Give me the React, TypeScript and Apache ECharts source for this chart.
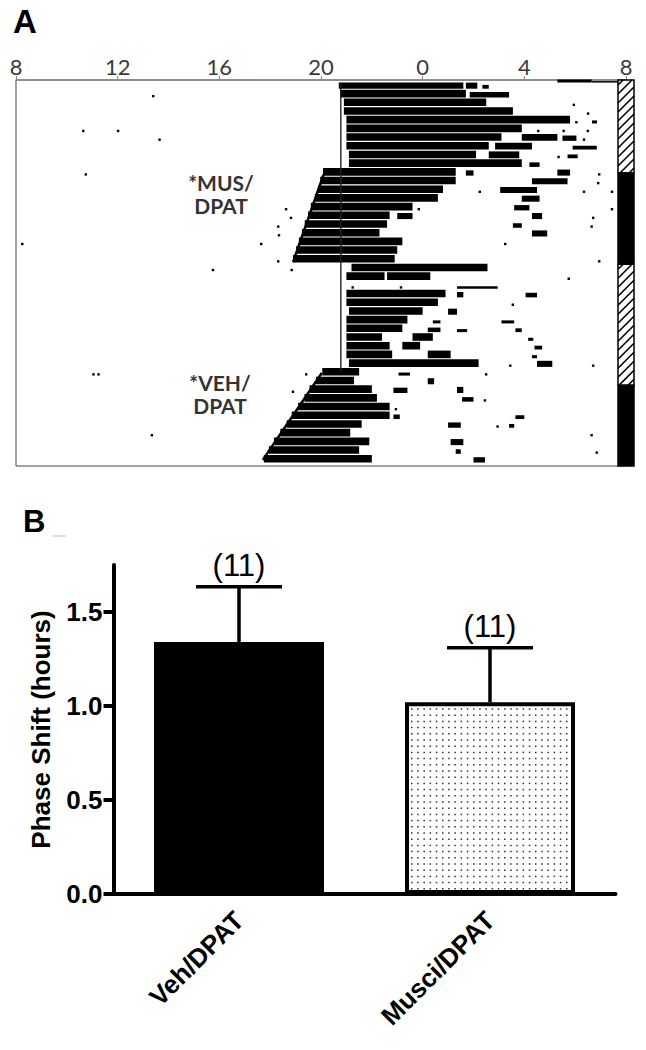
import React, { useEffect, useRef } from 'react';
import * as echarts from 'echarts';

// ---------- Panel A: actogram ----------
const hourTicks = [8, 12, 16, 20, 24, 28, 32];
const rowCount = 44;

// per-day activity bouts: [startHour, endHour, heightLevel]
const activityRows: number[][][] = [
  [[20.7, 25.6, 0.8], [25.7, 26.15, 0.8], [26.35, 26.6, 0.5]],
  [[20.75, 25.7, 1], [25.85, 27.4, 0.7]],
  [[20.9, 26.5, 1]],
  [[20.9, 27.55, 1]],
  [[21.0, 29.8, 1], [30.66, 30.86, 0.4]],
  [[21.0, 27.9, 1]],
  [[21.0, 27.1, 1], [27.9, 29.3, 0.9], [29.5, 30.05, 0.7]],
  [[21.0, 26.6, 1], [26.85, 28.3, 0.9], [29.9, 30.85, 0.5]],
  [[21.1, 26.1, 1], [26.6, 27.8, 0.9], [29.7, 30.1, 0.5]],
  [[21.1, 27.9, 1], [28.2, 28.6, 0.6]],
  [[20.08, 25.3, 1], [25.7, 26.0, 0.7], [29.3, 29.8, 0.8]],
  [[19.97, 25.3, 1], [28.3, 29.7, 0.8]],
  [[19.88, 24.8, 1], [27.05, 28.5, 0.8]],
  [[19.76, 24.6, 1], [27.9, 28.6, 0.8]],
  [[19.6, 23.6, 1], [27.6, 28.2, 0.7]],
  [[19.49, 22.7, 1], [23.0, 23.6, 0.8], [28.3, 28.7, 0.8]],
  [[19.36, 22.6, 1], [27.55, 27.9, 0.6]],
  [[19.25, 22.3, 1], [28.3, 28.9, 0.8]],
  [[19.13, 23.2, 1]],
  [[19.02, 23.0, 1]],
  [[18.9, 22.9, 1]],
  [[21.2, 26.55, 1]],
  [[21.0, 22.5, 1], [22.6, 24.3, 1]],
  [[25.35, 26.95, 0.3]],
  [[21.0, 24.9, 1], [25.35, 25.6, 0.7], [28.05, 28.5, 0.6]],
  [[21.0, 24.6, 1]],
  [[21.1, 24.0, 1], [25.0, 25.35, 0.8]],
  [[21.0, 23.4, 1], [24.4, 24.7, 0.4], [27.1, 27.6, 0.4]],
  [[21.0, 23.2, 1], [24.2, 24.7, 0.6], [25.35, 25.75, 0.4], [27.65, 27.9, 0.5]],
  [[21.0, 22.4, 1], [23.6, 24.4, 1], [28.15, 28.35, 0.4]],
  [[21.0, 22.7, 1], [23.2, 23.9, 1], [28.4, 28.7, 0.5]],
  [[21.0, 22.8, 1], [24.2, 25.1, 1], [28.3, 28.5, 0.4]],
  [[21.1, 26.2, 1], [28.5, 29.1, 0.8]],
  [[20.05, 21.5, 1], [23.05, 23.5, 0.4]],
  [[19.8, 21.3, 1], [24.2, 24.45, 0.8]],
  [[19.55, 22.0, 1], [22.85, 23.4, 0.7], [25.35, 25.6, 0.8]],
  [[19.35, 22.2, 1], [25.55, 26.0, 0.6]],
  [[19.1, 22.7, 1]],
  [[18.85, 22.7, 1], [22.85, 23.1, 0.6], [27.65, 28.0, 0.5]],
  [[18.65, 21.6, 1], [25.0, 25.5, 0.7], [27.4, 27.6, 0.5]],
  [[18.4, 21.15, 1]],
  [[18.15, 21.9, 1], [25.1, 25.6, 0.8]],
  [[17.95, 21.5, 1], [25.3, 25.5, 0.6]],
  [[17.75, 22.0, 1], [26.0, 26.45, 0.7]],
];

// isolated counts: [row, hour]
const isolatedCounts: number[][] = [
  [1, 13.35], [2, 29.9], [3, 30.46], [4, 30.0], [5, 10.6], [5, 11.97], [5, 28.5], [5, 29.5], [5, 30.45],
  [6, 13.6], [6, 30.3], [8, 29.3], [10, 10.7], [10, 30.9], [11, 30.86], [12, 26.2], [12, 30.3], [12, 31.4],
  [14, 23.8], [14, 31.4], [14, 18.58], [15, 18.77], [15, 30.66], [16, 18.27], [16, 30.6], [17, 18.3],
  [18, 8.2], [18, 17.6], [18, 27.2], [20, 18.27], [20, 30.9], [21, 15.7], [21, 18.8], [22, 29.7],
  [23, 21.2], [23, 23.1], [25, 27.5], [32, 27.4], [32, 30.66], [33, 11.0], [33, 11.2], [33, 19.37],
  [33, 26.45], [35, 18.85], [36, 26.4], [37, 22.9], [39, 26.9], [40, 30.6], [40, 13.3], [42, 30.8],
];

// carry-over activity drawn just under the time axis: [startHour, endHour, heightLevel]
const carryOverBouts: number[][] = [[29.3, 30.65, 0.4], [30.65, 31.7, 0.18]];

// guide lines [hour, row position]
const onsetGuide = [[20.78, 0.45], [20.78, 33.6]];
const musFitLine = [[20.1, 10.9], [18.9, 20.95]];
const vehFitLine = [[20.03, 33.7], [17.71, 43.7]];

// lighting bar: [fromRow, toRow, kind] kind 1 = hatched, 2 = dark
const lightingSegments = [[0, 10.7, 1], [10.7, 21.2, 2], [21.2, 35.1, 1], [35.1, 44.4, 2]];

// ---------- Panel B: bar chart ----------
const groups = ['Veh/DPAT', 'Musci/DPAT'];
const phaseShiftMean = [1.34, 1.02];
const phaseShiftSem = [0.294, 0.29];
const groupN = [11, 11];
const yTicksB = [0, 0.5, 1.0, 1.5];

const BAR_W = 170;
const ROW_H = 7.6;

export default function App() {
  const ref = useRef<HTMLDivElement>(null);
  useEffect(() => {
    const chart = echarts.init(ref.current!, null, { renderer: 'svg' });

    const boutData: number[][] = [];
    activityRows.forEach((row, r) => row.forEach((b) => boutData.push([r, b[0], b[1], b[2]])));
    isolatedCounts.forEach((d) => boutData.push([d[0], d[1], d[1], 0.32]));
    carryOverBouts.forEach((b) => boutData.push([-0.7, b[0], b[1], b[2]]));

    const annoStyle = { fontSize: 21, lineHeight: 23, fontWeight: 'bold', fontFamily: 'Lato', fill: '#333', align: 'center', verticalAlign: 'middle' };

    const option: any = {
      animation: false,
      textStyle: { fontFamily: 'Liberation Sans' },
      grid: [
        { left: 16, top: 80, width: 610, height: 386, show: true, borderColor: '#444', borderWidth: 1 },
        { left: 113.5, top: 565, width: 502, height: 329 },
      ],
      xAxis: [
        {
          type: 'value', gridIndex: 0, position: 'top', min: 8, max: 32, interval: 4,
          axisLine: { show: true, lineStyle: { color: '#888', width: 1.5 } },
          axisTick: { show: true, length: 4, lineStyle: { color: '#888', width: 1 } },
          axisLabel: {
            formatter: (v: number) => String(v % 24), fontFamily: 'Lato', fontSize: 22, color: '#3a3a3a', margin: 3,
            customValues: hourTicks,
          },
          splitLine: { show: false },
        },
        {
          type: 'category', gridIndex: 1, data: groups,
          axisLine: { lineStyle: { color: '#000', width: 4 } },
          axisTick: { alignWithLabel: true, length: 10, lineStyle: { color: '#000', width: 4 } },
          axisLabel: { rotate: 45, fontSize: 26, fontWeight: 'bold', color: '#000', margin: 22 },
        },
      ],
      yAxis: [
        { type: 'value', gridIndex: 0, min: 0, max: rowCount + 0.4, inverse: true, show: false },
        {
          type: 'value', gridIndex: 1, min: 0, max: 1.75, interval: 0.5,
          name: 'Phase Shift (hours)', nameLocation: 'middle', nameGap: 60,
          nameTextStyle: { fontSize: 26, fontWeight: 'bold', color: '#000' },
          axisLine: { show: true, lineStyle: { color: '#000', width: 4 } },
          axisTick: { show: true, length: 10, lineStyle: { color: '#000', width: 4 }, customValues: yTicksB },
          axisLabel: {
            fontSize: 26, fontWeight: 'bold', color: '#000', margin: 11, customValues: yTicksB,
            formatter: (v: number) => v.toFixed(1),
          },
          splitLine: { show: false },
        },
      ],
      series: [
        {
          type: 'custom', xAxisIndex: 0, yAxisIndex: 0, data: boutData, encode: { x: [1, 2], y: 0 },
          renderItem: (_p: any, api: any) => {
            const row = api.value(0), s = api.value(1), e = api.value(2), lvl = api.value(3);
            const a = api.coord([s, row + 1]);
            const b = api.coord([e, row + 1]);
            const h = Math.max(1.5, ROW_H * lvl);
            return {
              type: 'rect',
              shape: { x: a[0], y: a[1] - h, width: Math.max(2.4, b[0] - a[0]), height: h },
              style: { fill: '#000' },
            };
          },
        },
        {
          type: 'line', xAxisIndex: 0, yAxisIndex: 0, data: onsetGuide, symbol: 'none',
          lineStyle: { color: '#222', width: 1.4 },
        },
        {
          type: 'line', xAxisIndex: 0, yAxisIndex: 0, data: musFitLine, symbol: 'none',
          lineStyle: { color: '#000', width: 2.5 },
        },
        {
          type: 'line', xAxisIndex: 0, yAxisIndex: 0, data: vehFitLine, symbol: 'none',
          lineStyle: { color: '#000', width: 2.5 },
        },
        {
          type: 'custom', xAxisIndex: 0, yAxisIndex: 0, data: lightingSegments, encode: { y: [0, 1] }, z: 5,
          renderItem: (_p: any, api: any) => {
            const f = api.value(0), t = api.value(1), kind = api.value(2);
            const top = api.coord([32, f]);
            const bot = api.coord([32, t]);
            const w = 16;
            const x0 = top[0] - w / 2;
            const y0 = top[1], y1 = bot[1];
            const children: any[] = [
              { type: 'rect', shape: { x: x0, y: y0, width: w, height: y1 - y0 }, style: { fill: kind === 2 ? '#000' : '#fff', stroke: '#000', lineWidth: 1.5 } },
            ];
            if (kind === 1) {
              for (let k = y0 + 5; k < y1 + w; k += 9) {
                let xa = x0, ya = k, xb = x0 + w, yb = k - w;
                if (ya > y1) { xa = x0 + (k - y1); ya = y1; }
                if (yb < y0) { xb = x0 + (k - y0); yb = y0; }
                if (xb > xa) children.push({ type: 'line', shape: { x1: xa, y1: ya, x2: xb, y2: yb }, style: { stroke: '#000', lineWidth: 1.6 } });
              }
            }
            return { type: 'group', children };
          },
        },
        {
          type: 'custom', xAxisIndex: 1, yAxisIndex: 1, z: 1,
          data: [[1, phaseShiftMean[1]]],
          renderItem: (_p: any, api: any) => {
            const idx = api.value(0), v = api.value(1);
            const top = api.coord([idx, v]);
            const base = api.coord([idx, 0]);
            const half = BAR_W / 2;
            const children: any[] = [];
            for (let y = top[1] + 6; y < base[1] - 3; y += 6.2) {
              for (let x = top[0] - half + 6; x < top[0] + half - 4; x += 6.2) {
                children.push({ type: 'rect', shape: { x, y, width: 1.5, height: 1.5 }, style: { fill: '#333' } });
              }
            }
            return { type: 'group', children };
          },
        },
        {
          type: 'bar', xAxisIndex: 1, yAxisIndex: 1, barWidth: BAR_W, z: 3,
          data: phaseShiftMean.map((v, i) => ({
            value: v,
            itemStyle: i === 0
              ? { color: '#000' }
              : { color: 'rgba(255,255,255,0)', borderColor: '#000', borderWidth: 4 },
          })),
        },
        {
          type: 'custom', xAxisIndex: 1, yAxisIndex: 1, z: 4,
          data: phaseShiftMean.map((m, i) => [i, m, phaseShiftSem[i], groupN[i]]),
          renderItem: (_p: any, api: any) => {
            const idx = api.value(0), m = api.value(1), e = api.value(2), n = api.value(3);
            const p0 = api.coord([idx, m]);
            const p1 = api.coord([idx, m + e]);
            return {
              type: 'group',
              children: [
                { type: 'line', shape: { x1: p0[0], y1: p0[1], x2: p1[0], y2: p1[1] }, style: { stroke: '#000', lineWidth: 3.5 } },
                { type: 'line', shape: { x1: p1[0] - 43, y1: p1[1], x2: p1[0] + 43, y2: p1[1] }, style: { stroke: '#000', lineWidth: 3.5 } },
                {
                  type: 'text', x: p1[0], y: p1[1] - 21,
                  style: { text: '(' + n + ')', fill: '#000', fontSize: 31, fontFamily: 'Liberation Sans', align: 'center', verticalAlign: 'middle' },
                },
              ],
            };
          },
        },
      ],
      graphic: [
        { type: 'text', left: 13, top: 5, style: { text: 'A', fontSize: 33, fontWeight: 'bold', fontFamily: 'Liberation Sans', fill: '#000' } },
        { type: 'text', left: 23, top: 506, style: { text: 'B', fontSize: 31, fontWeight: 'bold', fontFamily: 'Liberation Sans', fill: '#000' } },
        { type: 'line', shape: { x1: 53, y1: 536, x2: 66, y2: 536 }, style: { stroke: '#ddd', lineWidth: 2 } },
        { type: 'text', x: 221, y: 194, style: { ...annoStyle, text: '*MUS/\nDPAT' } },
        { type: 'text', x: 220, y: 394, style: { ...annoStyle, text: '*VEH/\nDPAT' } },
      ],
    };
    chart.setOption(option);
    return () => chart.dispose();
  }, []);
  return <div ref={ref} style={{ position: 'absolute', left: 0, top: 0, width: 646, height: 1050, background: '#fff' }} />;
}
